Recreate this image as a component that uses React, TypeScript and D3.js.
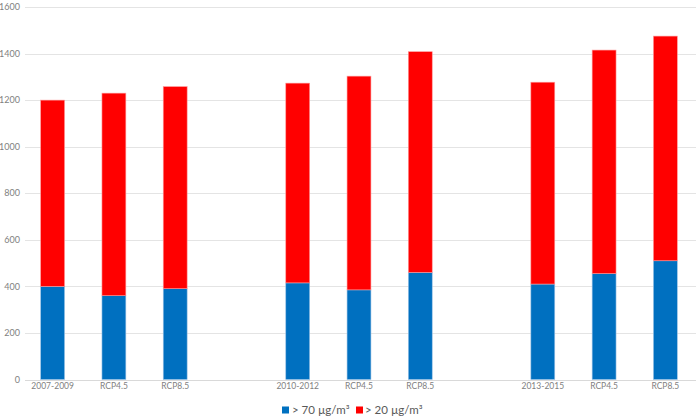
import React from 'react';
import * as d3 from 'd3';

const categories = ['2007-2009', 'RCP4.5', 'RCP8.5', '', '2010-2012', 'RCP4.5 ', 'RCP8.5 ', ' ', '2013-2015', 'RCP4.5  ', 'RCP8.5  '];
const over70 = [400, 360, 390, null, 415, 385, 460, null, 410, 455, 510];
const over20 = [800, 870, 868, null, 858, 918, 948, null, 867, 960, 965];
const yTicks = [0, 200, 400, 600, 800, 1000, 1200, 1400, 1600];

const W = 700;
const H = 419;
const margin = { top: 7, right: 4, bottom: 39, left: 22 };

const App: React.FC = () => {
  const x = d3.scaleBand<string>()
    .domain(categories)
    .range([margin.left, W - margin.right])
    .paddingInner(0.61)
    .paddingOuter(0.305);

  const y = d3.scaleLinear()
    .domain([0, 1600])
    .range([H - margin.bottom - 0.5, margin.top]);

  const font = 'Lato, "Open Sans", sans-serif';
  const grey = '#7f7f7f';

  return (
    <svg width={W} height={H} style={{ position: 'absolute', left: 0, top: 0, background: '#fff' }}>
      {yTicks.map(t => (
        <g key={t}>
          <line x1={margin.left + 3} x2={W - 4} y1={Math.round(y(t)) + 0.5} y2={Math.round(y(t)) + 0.5}
            stroke={t === 0 ? '#d9d9d9' : '#e4e4e4'} strokeWidth={1} />
          <text x={margin.left - 2} y={y(t)} dy="0.35em" textAnchor="end" fontSize={9} fill={grey} fontFamily={font}>{t}</text>
        </g>
      ))}
      {categories.map((c, i) => {
        const b = over70[i];
        const r = over20[i];
        if (b == null || r == null) return null;
        const x0 = x(c)!;
        return (
          <g key={i}>
            <rect x={x0} y={y(b)} width={x.bandwidth()} height={y(0) - y(b)} fill="#0070C0" stroke="#9dc3e6" strokeWidth={0.6} />
            <rect x={x0} y={y(b + r)} width={x.bandwidth()} height={y(b) - y(b + r)} fill="#FF0000" stroke="#ff9a9a" strokeWidth={0.6} />
          </g>
        );
      })}
      {categories.map((c, i) => c.trim() === '' ? null : (
        <text key={'l' + i} x={x(c)! + x.bandwidth() / 2} y={H - margin.bottom + 9} textAnchor="middle"
          fontSize={8.5} fill={grey} fontFamily={font}>{c.trim()}</text>
      ))}
      <g transform="translate(282,410)">
        <rect x={0} y={-3.5} width={7} height={7} fill="#0070C0" />
        <text x={10} y={0} dy="0.35em" fontSize={11.5} fill="#595959" fontFamily={font}>&gt; 70 µg/m³</text>
        <rect x={74} y={-3.5} width={7} height={7} fill="#FF0000" />
        <text x={83} y={0} dy="0.35em" fontSize={11.5} fill="#595959" fontFamily={font}>&gt; 20 µg/m³</text>
      </g>
    </svg>
  );
};

export default App;
